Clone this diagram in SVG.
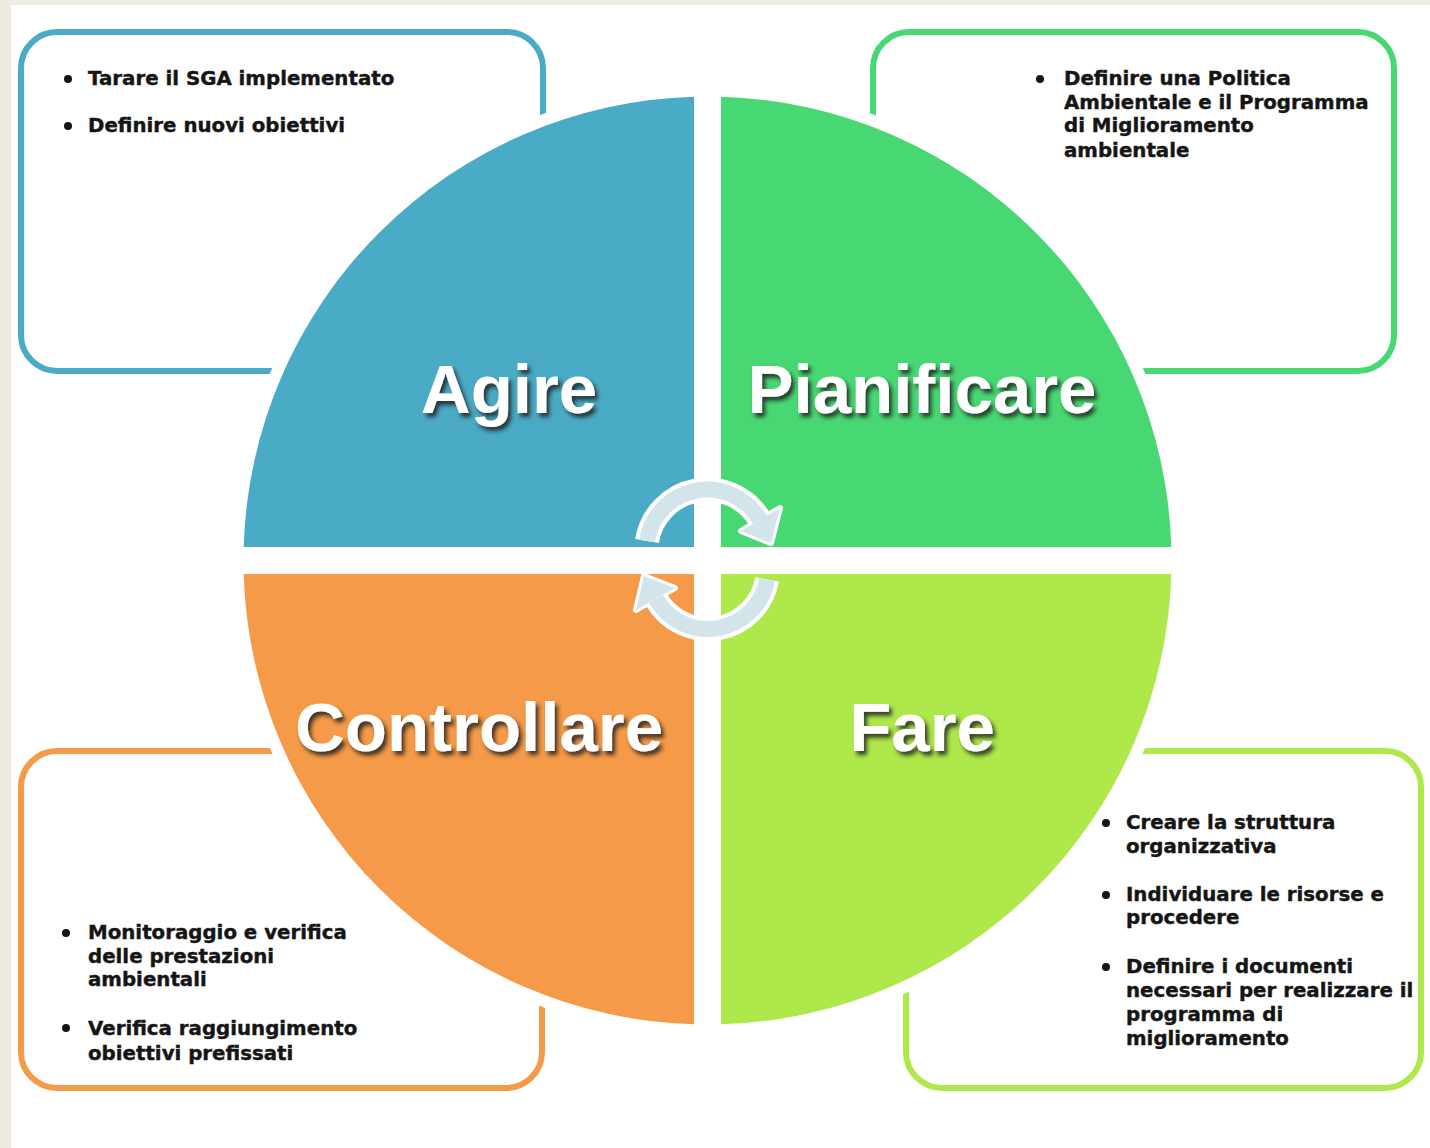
<svg xmlns="http://www.w3.org/2000/svg" width="1430" height="1148" viewBox="0 0 1430 1148">
<defs>
<style>
.box{fill:#FFFFFF;stroke-width:6}
.bt{font-family:"DejaVu Sans",Verdana,sans-serif;font-weight:bold;font-size:19.8px;fill:#151515;stroke:#151515;stroke-width:0.4}
.big{font-family:"Liberation Sans",Arial,sans-serif;font-weight:bold;font-size:69px;fill:#FFFFFF;text-anchor:middle}
.arw{fill:none;stroke-linecap:butt}
</style>
<filter id="sh" x="-10%" y="-20%" width="130%" height="160%">
<feDropShadow dx="3" dy="4" stdDeviation="2" flood-color="#1a1a1a" flood-opacity="0.85"/>
</filter>
<linearGradient id="bg" x1="0" y1="0" x2="1" y2="1">
<stop offset="0" stop-color="#FFFFFF"/>
<stop offset="0.5" stop-color="#F9F9F9"/>
<stop offset="1" stop-color="#FFFFFF"/>
</linearGradient>
</defs>
<rect x="0" y="0" width="1430" height="1148" fill="#EEEBE0"/>
<rect x="11" y="5" width="1419" height="1143" fill="#FFFFFF"/>

<g id="box-agire">
<rect class="box" x="21" y="32" width="522" height="339" rx="36" stroke="#4AABC6" fill="url(#bg)"/>
</g>
<g id="box-pianificare">
<rect class="box" x="873" y="32" width="521" height="339" rx="36" stroke="#48D873" fill="url(#bg)"/>
</g>
<g id="box-controllare">
<rect class="box" x="21" y="751" width="521" height="337" rx="36" stroke="#F59A48" fill="url(#bg)"/>
</g>
<g id="box-fare">
<rect class="box" x="906" y="751" width="515" height="337" rx="36" stroke="#AEE84A" fill="url(#bg)"/>
</g>

<circle cx="707.5" cy="560.5" r="476" fill="#FFFFFF"/>

<g id="agire">
<path d="M694,547 L243.7,547 A464,464 0 0 1 694,96.7 Z" fill="#4AABC6"/>
<text class="big" x="509" y="413" filter="url(#sh)">Agire</text>
</g>
<g id="pianificare">
<path d="M721,547 L721,96.7 A464,464 0 0 1 1171.3,547 Z" fill="#48D873"/>
<text class="big" x="922" y="413" filter="url(#sh)">Pianificare</text>
</g>
<g id="controllare">
<path d="M694,574 L694,1024.3 A464,464 0 0 1 243.7,574 Z" fill="#F59A48"/>
<text class="big" x="479" y="751" filter="url(#sh)">Controllare</text>
</g>
<g id="fare">
<path d="M721,574 L1171.3,574 A464,464 0 0 1 721,1024.3 Z" fill="#AEE84A"/>
<text class="big" x="922" y="751" filter="url(#sh)">Fare</text>
</g>

<g id="connectors">
<path class="arw" d="M647,541 A61,61 0 0 1 760,520" stroke="#FFFFFF" stroke-width="24"/>
<polygon points="780,508 741,531 771,543" fill="#FFFFFF" stroke="#FFFFFF" stroke-width="6" stroke-linejoin="round"/>
<path class="arw" d="M647,541 A61,61 0 0 1 760,520" stroke="#D3E4EA" stroke-width="16"/>
<polygon points="780,508 741,531 771,543" fill="#D3E4EA"/>

<path class="arw" d="M767.1,579.4 A60,60 0 0 1 656,599" stroke="#FFFFFF" stroke-width="24"/>
<polygon points="636,610 675,588 644,576" fill="#FFFFFF" stroke="#FFFFFF" stroke-width="6" stroke-linejoin="round"/>
<path class="arw" d="M767.1,579.4 A60,60 0 0 1 656,599" stroke="#D3E4EA" stroke-width="16"/>
<polygon points="636,610 675,588 644,576" fill="#D3E4EA"/>
</g>

<g id="text-agire">
<circle cx="68" cy="79" r="4" fill="#151515"/>
<text class="bt" x="88" y="85">Tarare il SGA implementato</text>
<circle cx="68" cy="126" r="4" fill="#151515"/>
<text class="bt" x="88" y="132">Definire nuovi obiettivi</text>
</g>
<g id="text-pianificare">
<circle cx="1040" cy="79" r="4" fill="#151515"/>
<text class="bt" x="1064" y="85">Definire una Politica</text>
<text class="bt" x="1064" y="109">Ambientale e il Programma</text>
<text class="bt" x="1064" y="132">di Miglioramento</text>
<text class="bt" x="1064" y="157">ambientale</text>
</g>
<g id="text-controllare">
<circle cx="66" cy="933" r="4" fill="#151515"/>
<text class="bt" x="88" y="939">Monitoraggio e verifica</text>
<text class="bt" x="88" y="963">delle prestazioni</text>
<text class="bt" x="88" y="986">ambientali</text>
<circle cx="66" cy="1028" r="4" fill="#151515"/>
<text class="bt" x="88" y="1035">Verifica raggiungimento</text>
<text class="bt" x="88" y="1060">obiettivi prefissati</text>
</g>
<g id="text-fare">
<circle cx="1106" cy="823" r="4" fill="#151515"/>
<text class="bt" x="1126" y="829">Creare la struttura</text>
<text class="bt" x="1126" y="853">organizzativa</text>
<circle cx="1106" cy="895" r="4" fill="#151515"/>
<text class="bt" x="1126" y="901">Individuare le risorse e</text>
<text class="bt" x="1126" y="924">procedere</text>
<circle cx="1106" cy="967" r="4" fill="#151515"/>
<text class="bt" x="1126" y="973">Definire i documenti</text>
<text class="bt" x="1126" y="997">necessari per realizzare il</text>
<text class="bt" x="1126" y="1021">programma di</text>
<text class="bt" x="1126" y="1045">miglioramento</text>
</g>
</svg>
